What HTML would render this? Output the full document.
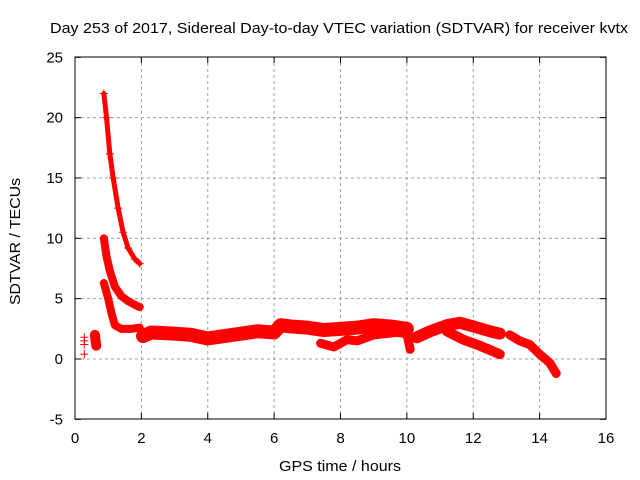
<!DOCTYPE html>
<html><head><meta charset="utf-8"><style>
body{margin:0;background:#fff;}
svg{display:block;font-family:"Liberation Sans",sans-serif;}
</style></head><body>
<svg id="chart" width="640" height="480" viewBox="0 0 640 480">
<text x="50" y="33" font-size="15" textLength="578" lengthAdjust="spacingAndGlyphs">Day 253 of 2017, Sidereal Day-to-day VTEC variation (SDTVAR) for receiver kvtx</text>
<g id="grid"></g>
<g id="marks"></g>
<rect x="75" y="57" width="531" height="362" fill="none" stroke="#000" stroke-width="1"/>
<g id="ticks"></g>
<text x="279" y="471" font-size="15" textLength="122" lengthAdjust="spacingAndGlyphs">GPS time / hours</text>
<text transform="translate(20,305) rotate(-90)" font-size="15" textLength="127" lengthAdjust="spacingAndGlyphs">SDTVAR / TECUs</text>
</svg>
<script>
const xTicks=[0,2,4,6,8,10,12,14,16];
const yTicks=[-5,0,5,10,15,20,25];
const trackUpper=[[0.87,22],[0.95,20],[1.05,17],[1.15,15],[1.3,12.5],[1.45,10.5],[1.6,9.2],[1.8,8.3],[1.95,7.9]];
const trackMiddle=[[0.87,10],[0.95,8.5],[1.05,7.3],[1.2,6],[1.4,5.2],[1.6,4.8],[1.8,4.5],[1.95,4.3]];
const trackLower=[[0.87,6.3],[1.0,5],[1.1,3.8],[1.2,2.8],[1.4,2.5],[1.7,2.5],[1.95,2.6]];
const trackEarly=[[0.6,2.0],[0.62,1.5],[0.64,1.1]];
const pointsIsolated=[[0.28,1.8],[0.28,1.5],[0.28,1.2],[0.28,0.4]];
const trackMain=[[2.05,1.9],[2.3,2.2],[3,2.1],[3.5,2.0],[4,1.7],[4.5,1.9],[5,2.1],[5.5,2.3],[6,2.2],[6.2,2.8],[6.5,2.7],[7,2.6],[7.5,2.4],[8,2.5],[8.5,2.6],[9,2.8],[9.5,2.7],[10,2.5]];
const trackMainLow=[[7.4,1.3],[7.8,1.0],[8.2,1.6],[8.5,1.5],[9,2.0],[9.7,2.2],[10,2.1],[10.1,0.8]];
const trackArcUpper=[[10.3,1.8],[10.7,2.3],[11.2,2.8],[11.6,3.0],[12,2.7],[12.5,2.3],[12.8,2.1]];
const trackArcLower=[[11.2,2.3],[11.7,1.6],[12.2,1.1],[12.8,0.4]];
const trackLate=[[13.1,2.0],[13.4,1.5],[13.7,1.2],[14,0.4],[14.3,-0.3],[14.5,-1.2]];
const X=h=>75+h*531/16, Y=v=>359-v*362/30;
const NS="http://www.w3.org/2000/svg";
const grid=document.getElementById('grid'),ticks=document.getElementById('ticks'),marks=document.getElementById('marks');
function mk(tag,at,p){const e=document.createElementNS(NS,tag);for(const k in at)e.setAttribute(k,at[k]);p.appendChild(e);return e;}
xTicks.forEach(t=>{const x=X(t);
 if(t>0&&t<16){const l=mk('line',{x1:x,y1:57,x2:x,y2:419,stroke:'#a0a0a0','stroke-dasharray':'3,3'},grid);
 
 }
 mk('line',{x1:x,y1:419,x2:x,y2:413,stroke:'#000'},ticks);mk('line',{x1:x,y1:57,x2:x,y2:63,stroke:'#000'},ticks);
 const tx=mk('text',{x:x,y:443,'text-anchor':'middle','font-size':15},ticks);tx.textContent=t;
 
 });
yTicks.forEach(t=>{const y=Y(t);
 if(t>-5&&t<25){const l=mk('line',{x1:75,y1:y,x2:606,y2:y,stroke:'#a0a0a0','stroke-dasharray':'3,3'},grid);
 
 }
 mk('line',{x1:75,y1:y,x2:81,y2:y,stroke:'#000'},ticks);mk('line',{x1:606,y1:y,x2:600,y2:y,stroke:'#000'},ticks);
 const tx=mk('text',{x:63,y:y+5,'text-anchor':'end','font-size':15},ticks);tx.textContent=t;
 
 });
function track(d,w,name){
 const pl=mk('polyline',{points:d.map(p=>X(p[0])+','+Y(p[1])).join(' '),fill:'none',stroke:'#f00','stroke-width':w,'stroke-linejoin':'round','stroke-linecap':'round'},marks);
 
 
 d.forEach(p=>{const x=X(p[0]),y=Y(p[1]);mk('path',{d:`M${x-4},${y}h8M${x},${y-4}v8`,stroke:'#f00','stroke-width':1},marks);});
}
track(trackUpper,5,'track-upper');
track(trackMiddle,8,'track-middle');
track(trackLower,8,'track-lower');
track(trackEarly,10,'track-early');
track(pointsIsolated,0,'isolated-points');
track(trackMain,14,'track-main');
track(trackMainLow,9,'track-main-low');
track(trackArcUpper,12,'track-arc-upper');
track(trackArcLower,10,'track-arc-lower');
track(trackLate,9,'track-late');
</script>
</body></html>
